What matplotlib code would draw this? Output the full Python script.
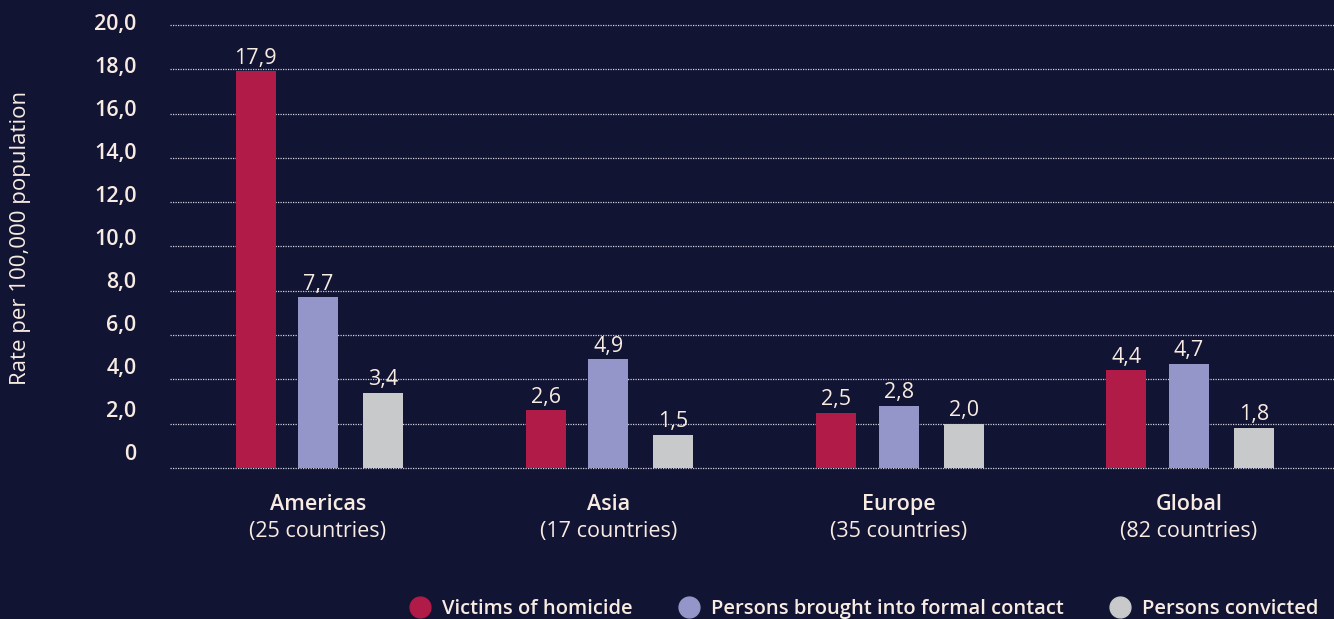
import numpy as np
import matplotlib.pyplot as plt
from matplotlib.lines import Line2D
from matplotlib.transforms import ScaledTranslation

# --- Daten ---
regions = ["Americas", "Asia", "Europe", "Global"]
n_countries = ["(25 countries)", "(17 countries)", "(35 countries)", "(82 countries)"]
series = ["Victims of homicide", "Persons brought into formal contact", "Persons convicted"]
victims = [17.9, 2.6, 2.5, 4.4]
contact = [7.7, 4.9, 2.8, 4.7]
convicted = [3.4, 1.5, 2.0, 1.8]
yticks = [0, 2, 4, 6, 8, 10, 12, 14, 16, 18, 20]

BG = "#121433"
TXT = "#f8ebe2"
colors = ["#b01c47", "#9496c9", "#c8c9ca"]
offsets = [-0.215, 0.0, 0.224]
width = 0.138

plt.rcParams["font.family"] = ["Open Sans", "DejaVu Sans"]

fig = plt.figure(figsize=(13.34, 6.19), dpi=100, facecolor=BG)
ax = fig.add_axes([0.1274, 0.244, 0.8726, 0.7157], facecolor=BG)

x = np.arange(len(regions))
for vals, off, col in zip([victims, contact, convicted], offsets, colors):
    bars = ax.bar(x + off, vals, width, color=col, zorder=3)
    for b, v in zip(bars, vals):
        ax.annotate(f"{v:.1f}".replace(".", ","),
                    (b.get_x() + b.get_width() / 2, b.get_height()),
                    xytext=(0, 2), textcoords="offset points",
                    ha="center", va="bottom", color=TXT, fontsize=15.5)

ax.set_xlim(-0.51, 3.5)
ax.set_ylim(0, 20)
ax.set_yticks(yticks)
ax.set_yticklabels(["0"] + [f"{t:.1f}".replace(".", ",") for t in yticks[1:]],
                   color=TXT, fontsize=15.5, fontweight="semibold")
ax.tick_params(axis="y", length=0, pad=24)
# Beschriftungen sitzen im Original leicht über den Gitterlinien
for t, lbl in zip(yticks, ax.get_yticklabels()):
    dy = (16 - 13 * t / 20) / 100
    lbl.set_transform(lbl.get_transform() + ScaledTranslation(0, dy, fig.dpi_scale_trans))
ax.set_xticks([])
ax.yaxis.grid(True, color="#d0d0da", linestyle=(0, (1, 1)), linewidth=0.9, zorder=0)
for gl in ax.get_ygridlines():
    gl.set_clip_on(False)
for s in ax.spines.values():
    s.set_visible(False)

ax.set_ylabel("Rate per 100,000 population", color=TXT, fontsize=16)
ax.yaxis.set_label_coords(-0.119, 0.52)

for i, (name, sub) in enumerate(zip(regions, n_countries)):
    ax.annotate(name, (i, 0), xycoords=("data", "axes fraction"),
                xytext=(0, -26.5), textcoords="offset points",
                ha="center", va="center", color=TXT, fontsize=15.5, fontweight="semibold")
    ax.annotate(sub, (i, 0), xycoords=("data", "axes fraction"),
                xytext=(0, -46), textcoords="offset points",
                ha="center", va="center", color=TXT, fontsize=15.5)

handles = [Line2D([], [], marker="o", linestyle="", markersize=15, color=c) for c in colors]
leg = fig.legend(handles, series, loc="lower right", bbox_to_anchor=(1.002, -0.03),
                 ncol=3, frameon=False, handletextpad=0.1, columnspacing=1.8,
                 prop={"size": 14.5, "weight": "semibold"})
for t in leg.get_texts():
    t.set_color(TXT)

fig.savefig("out.png", dpi=100, facecolor=BG)
